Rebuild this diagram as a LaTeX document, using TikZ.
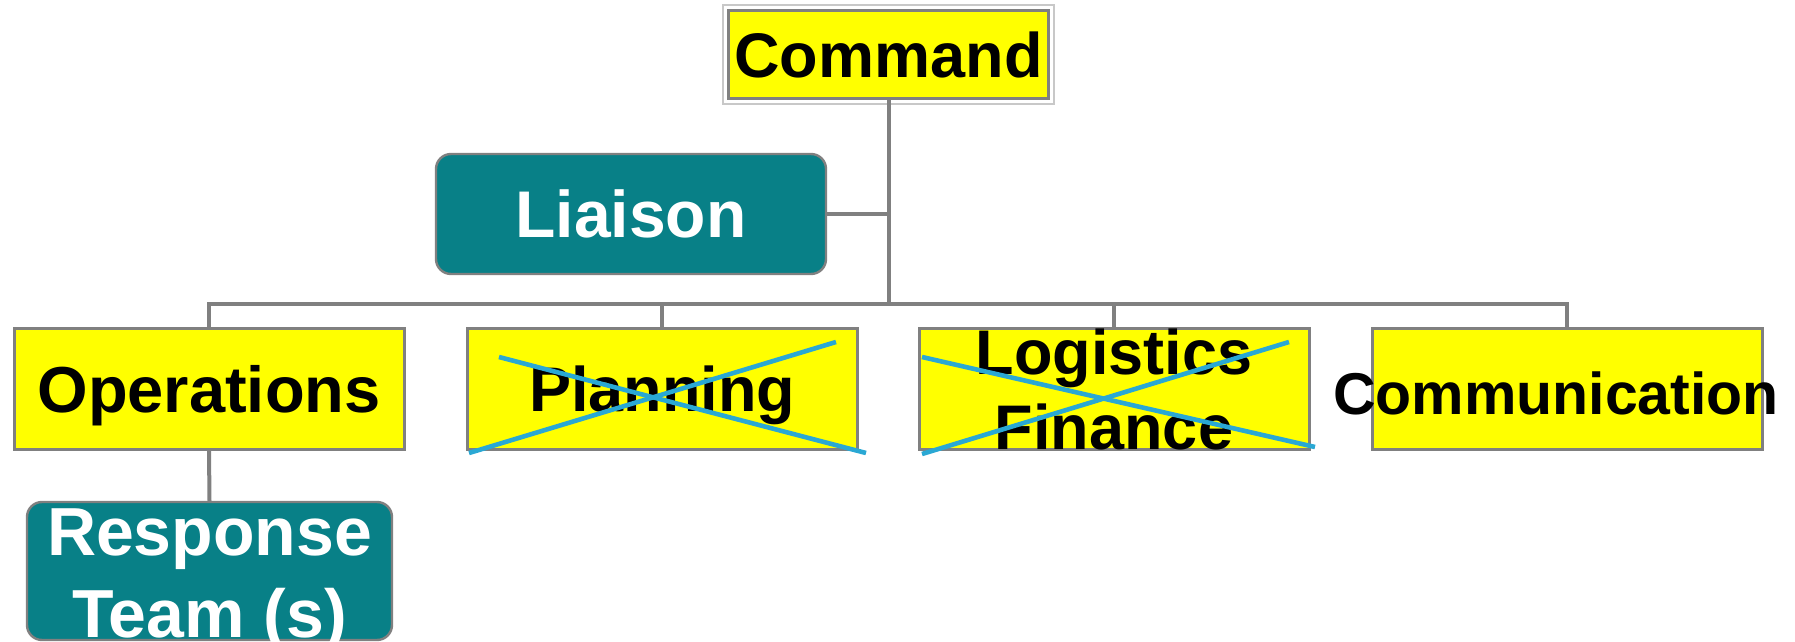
\documentclass[tikz,border=0pt]{standalone}
\usepackage{fontspec}
\setmainfont{Liberation Sans}
\definecolor{yboxc}{RGB}{255,255,0}
\definecolor{tealc}{RGB}{8,128,135}
\definecolor{lgray}{RGB}{128,128,128}
\definecolor{frameg}{RGB}{200,200,200}
\definecolor{xblue}{RGB}{42,168,212}
\begin{document}
\begin{tikzpicture}[x=0.5pt,y=-0.5pt,
  conn/.style={draw=lgray, line width=2pt},
  yellowbox/.style={draw=lgray, line width=1.5pt, fill=yboxc, minimum width=195pt, minimum height=60.5pt, inner sep=0pt, text depth=0pt},
  tealbox/.style={draw=lgray, line width=1.2pt, fill=tealc, rounded corners=7.5pt, text=white, inner sep=0pt, text depth=0pt},
  bigtxt/.style={font=\bfseries\fontsize{31.5}{37.5}\selectfont},
  xline/.style={draw=xblue, line width=2.3pt}]
\useasboundingbox (0,0) rectangle (1795,642);
% boxes
\node[yellowbox, bigtxt, minimum width=160pt, minimum height=44pt] (cmd) at (888.5,54.5) {Command};
\draw[frameg, line width=0.6pt] ([shift={(-4,-4)}]cmd.north west) rectangle ([shift={(4,4)}]cmd.south east);
\node[tealbox, font=\bfseries\fontsize{33}{40}\selectfont, minimum width=195pt, minimum height=60pt] (lia) at (631,214) {Liaison};
\node[yellowbox, font=\bfseries\fontsize{32.5}{38}\selectfont] (ops) at (209,388.5) {Operations};
\node[yellowbox, font=\bfseries\fontsize{31.5}{38}\selectfont] (plan) at (662,388.5) {Planning};
\node[yellowbox] (log) at (1114,388.5) {};
\node[yellowbox] (comm) at (1567,388.5) {};
\node[tealbox, minimum width=182.5pt, minimum height=69pt] (resp) at (209.5,571) {};
% texts overflowing their boxes
\node[bigtxt, align=center, inner sep=0pt] (logT) at (1114,389.5) {Logistics\\Finance};
\node[font=\bfseries\fontsize{29.5}{36}\selectfont, inner sep=0pt, text depth=0pt] (commT) at (1556,393) {Communication};
\node[font=\bfseries\fontsize{34}{41}\selectfont, align=center, inner sep=0pt, text=white] (respT) at (209.5,580.5) {Response\\Team (s)};
% connectors
\coordinate (bus) at (888.5,304);
\draw[conn] (cmd.south) -- (bus);
\draw[conn] (lia.east) -- (lia.east -| cmd.south);
\draw[conn] (ops.north) -- (ops.north |- bus) -- (comm.north |- bus) -- (comm.north);
\draw[conn] (plan.north) -- (plan.north |- bus);
\draw[conn] (log.north) -- (log.north |- bus);
\draw[conn] (ops.south) -- (resp.north);
% crosses
\draw[xline] ([shift={(-163,-31.5)}]plan.center) -- ([shift={(204,64.5)}]plan.center);
\draw[xline] ([shift={(-193,64.5)}]plan.center) -- ([shift={(174,-46.5)}]plan.center);
\draw[xline] ([shift={(-192,-31.5)}]log.center) -- ([shift={(201,58.5)}]log.center);
\draw[xline] ([shift={(-192,65.5)}]log.center) -- ([shift={(175,-46.5)}]log.center);
\end{tikzpicture}
\end{document}
